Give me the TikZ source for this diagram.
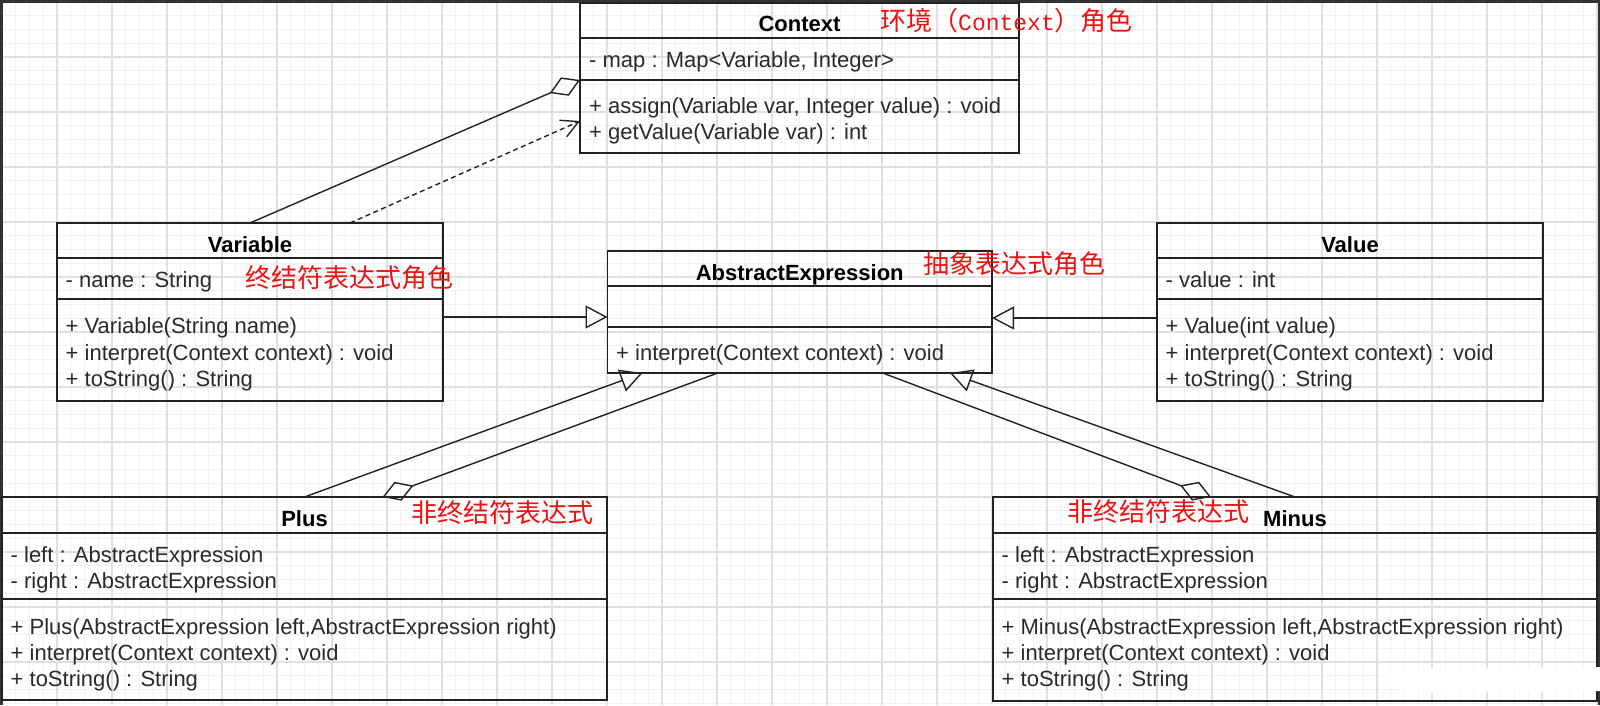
\documentclass[tikz,border=0pt]{standalone}
\usepackage{fontspec}
\setmainfont{Liberation Sans}
\newfontfamily\lblcjk{Noto Sans CJK SC}
\newfontfamily\lblmono{Liberation Mono}
\usetikzlibrary{arrows.meta}
\definecolor{minorgrid}{HTML}{F1F1F1}
\definecolor{majorgrid}{HTML}{E0E0E0}
\definecolor{boxline}{HTML}{222222}
\definecolor{membertext}{HTML}{2A2A2A}
\definecolor{notered}{HTML}{EE1111}
\definecolor{framecol}{HTML}{333333}
\begin{document}
\begin{tikzpicture}[x=1pt,y=-1pt,
  minorg/.style={draw=minorgrid, line width=1pt},
  majorg/.style={draw=majorgrid, line width=1.1pt},
  cls/.style={draw=boxline, line width=1.8pt, rectangle, inner sep=0pt, outer sep=0pt},
  divider/.style={draw=boxline, line width=1.8pt},
  ctitle/.style={anchor=base, inner sep=0pt, font=\fontsize{22}{26}\selectfont\bfseries, text=black},
  member/.style={anchor=base west, inner sep=0pt, font=\fontsize{22}{26}\selectfont, text=membertext},
  note/.style={anchor=base west, inner sep=0pt, font=\fontsize{26}{30}\selectfont\lblcjk, text=notered},
  conn/.style={draw=boxline, line width=1.4pt},
  gen/.style={conn, -{Triangle[open, length=22pt, width=23pt]}},
  agg/.style={conn, -{Diamond[open, length=33pt, width=20pt]}},
  dep/.style={conn, dash pattern=on 5pt off 3.5pt, -{Straight Barb[length=17pt, width=18pt]}}
]
\useasboundingbox (0,0) rectangle (1600,705);
% background grid
\foreach \i in {0,...,116} \draw[minorg] ({2+13.75*\i},0) -- ({2+13.75*\i},705);
\foreach \i in {0,...,51} \draw[minorg] (0,{2+13.75*\i}) -- (1600,{2+13.75*\i});
\foreach \i in {0,...,29} \draw[majorg] ({2+55*\i},0) -- ({2+55*\i},705);
\foreach \i in {0,...,12} \draw[majorg] (0,{2+55*\i}) -- (1600,{2+55*\i});
% frame
\fill[framecol] (0,0) rectangle (1600,2.5);
\fill[framecol] (0,0) rectangle (2.5,705);
\fill[framecol] (1597.5,0) rectangle (1600,705);

% Context
\node[cls, minimum width=439pt, minimum height=150pt] (ctx) at (799.5,78) {};
\draw[divider] (ctx.west |- 0,38) -- (ctx.east |- 0,38);
\draw[divider] (ctx.west |- 0,80) -- (ctx.east |- 0,80);
\node[ctitle] (ctxT) at (799.5,31) {Context};
\node[member] (ctxA1) at (589,67) {- map : Map<Variable, Integer>};
\node[member] (ctxM1) at (589,113) {+ assign(Variable var, Integer value) : void};
\node[member] (ctxM2) at (589,139) {+ getValue(Variable var) : int};

% Variable
\node[cls, minimum width=386pt, minimum height=178pt] (var) at (250,312) {};
\draw[divider] (var.west |- 0,258) -- (var.east |- 0,258);
\draw[divider] (var.west |- 0,299) -- (var.east |- 0,299);
\node[ctitle] (varT) at (250,252) {Variable};
\node[member] (varA1) at (65.5,287) {- name : String};
\node[member] (varM1) at (65.5,333) {+ Variable(String name)};
\node[member] (varM2) at (65.5,360) {+ interpret(Context context) : void};
\node[member] (varM3) at (65.5,386) {+ toString() : String};

% AbstractExpression
\node[cls, minimum width=384.5pt, minimum height=122pt] (ae) at (799.75,312) {};
\draw[divider] (ae.west |- 0,286) -- (ae.east |- 0,286);
\draw[divider] (ae.west |- 0,327) -- (ae.east |- 0,327);
\node[ctitle] (aeT) at (799.75,280) {AbstractExpression};
\node[member] (aeM1) at (616,360) {+ interpret(Context context) : void};

% Value
\node[cls, minimum width=386pt, minimum height=178pt] (val) at (1350,312) {};
\draw[divider] (val.west |- 0,258) -- (val.east |- 0,258);
\draw[divider] (val.west |- 0,299) -- (val.east |- 0,299);
\node[ctitle] (valT) at (1350,252) {Value};
\node[member] (valA1) at (1165.5,287) {- value : int};
\node[member] (valM1) at (1165.5,333) {+ Value(int value)};
\node[member] (valM2) at (1165.5,360) {+ interpret(Context context) : void};
\node[member] (valM3) at (1165.5,386) {+ toString() : String};

% Plus
\node[cls, minimum width=605pt, minimum height=203pt] (plus) at (304.5,598.5) {};
\draw[divider] (plus.west |- 0,533) -- (plus.east |- 0,533);
\draw[divider] (plus.west |- 0,599) -- (plus.east |- 0,599);
\node[ctitle] (plusT) at (304.5,526) {Plus};
\node[member] (plusA1) at (10.5,562) {- left : AbstractExpression};
\node[member] (plusA2) at (10.5,588) {- right : AbstractExpression};
\node[member] (plusM1) at (10.5,634) {+ Plus(AbstractExpression left,AbstractExpression right)};
\node[member] (plusM2) at (10.5,660) {+ interpret(Context context) : void};
\node[member] (plusM3) at (10.5,686) {+ toString() : String};

% Minus
\node[cls, minimum width=604pt, minimum height=204pt] (minus) at (1295,599) {};
\draw[divider] (minus.west |- 0,533) -- (minus.east |- 0,533);
\draw[divider] (minus.west |- 0,599) -- (minus.east |- 0,599);
\node[ctitle] (minusT) at (1295,526) {Minus};
\node[member] (minusA1) at (1001.5,562) {- left : AbstractExpression};
\node[member] (minusA2) at (1001.5,588) {- right : AbstractExpression};
\node[member] (minusM1) at (1001.5,634) {+ Minus(AbstractExpression left,AbstractExpression right)};
\node[member] (minusM2) at (1001.5,660) {+ interpret(Context context) : void};
\node[member] (minusM3) at (1001.5,686) {+ toString() : String};

% connectors
\draw[agg] (var.north) -- ([yshift=-2pt]ctx.west);
\draw[dep] ([xshift=100pt]var.north) -- ([yshift=-43pt]ctx.west);
\draw[gen] ([yshift=-5pt]var.east) -- ([yshift=-5pt]ae.west);
\draw[gen] ([yshift=-6pt]val.west) -- ([yshift=-6pt]ae.east);
\draw[gen] (plus.north) -- ([xshift=35pt]ae.south west);
\draw[agg] ([xshift=-82pt]ae.south) -- ([xshift=78pt]plus.north);
\draw[gen] (minus.north) -- ([xshift=-42pt]ae.south east);
\draw[agg] ([xshift=83pt]ae.south) -- ([xshift=-84pt]minus.north);

% red notes
\node[note] (noteCtx) at (880,30) {环境（{\lblmono\fontsize{23}{30}\selectfont Context}）角色};
\node[note] (noteVar) at (245,287) {终结符表达式角色};
\node[note] (noteAE) at (923,273) {抽象表达式角色};
\node[note] (notePlus) at (411,522) {非终结符表达式};
\node[note] (noteMinus) at (1067,521) {非终结符表达式};

% white patch over the lower right corner
\fill[white] (1387,678) .. controls (1388,669) .. (1402,668) -- (1600,667) -- (1600,691) -- (1440,693) .. controls (1398,692) and (1388,688) .. (1387,678) -- cycle;
\end{tikzpicture}
\end{document}
